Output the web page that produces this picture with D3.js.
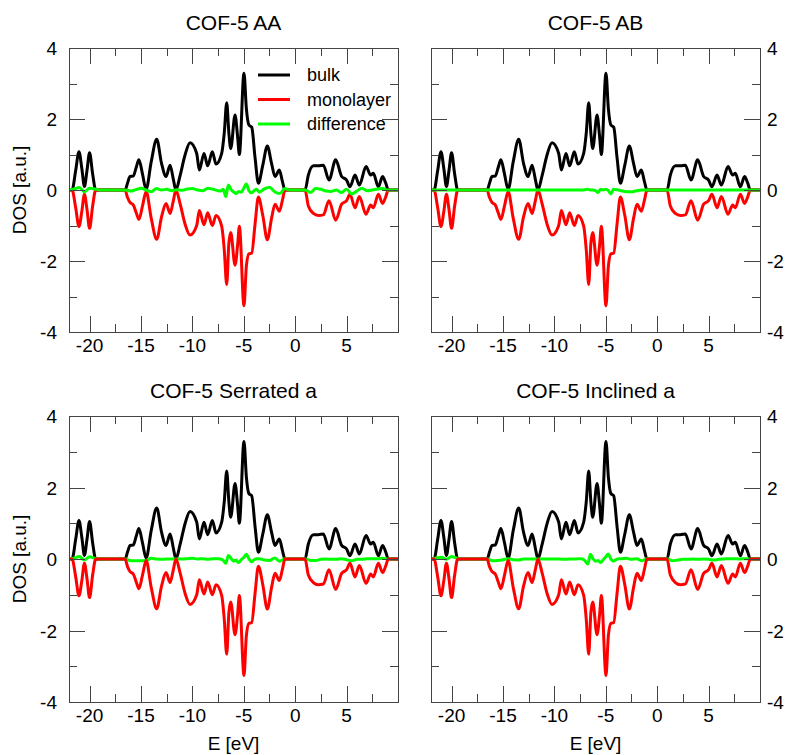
<!DOCTYPE html>
<html>
<head>
<meta charset="utf-8">
<script src="https://d3js.org/d3.v7.min.js"></script>
<style>
  body { margin: 0; background: #fff; }
  svg text { font-family: "Liberation Sans", Arial, sans-serif; fill: #000; }
  .frame { fill: none; stroke: #444; stroke-width: 1; shape-rendering: crispEdges; }
  .tick { stroke: #444; stroke-width: 1; shape-rendering: crispEdges; }
  .dos { fill: none; stroke-width: 3; stroke-linejoin: round; stroke-linecap: round; }
</style>
</head>
<body>
<svg width="790" height="755"></svg>
<script>
// energy grid (eV) for the bulk / monolayer curves
const energy = [-22, -21.7, -21.35, -21.03, -20.75, -20.5, -20.25, -20.0, -19.7, -19.4,
  -16.55, -16.3, -16.07, -15.75, -15.45, -15.2, -14.85, -14.5, -14.0, -13.47,
  -13.0, -12.56, -12.17, -11.85, -11.6, -11.2, -10.7, -10.23, -9.58, -9.32,
  -8.87, -8.51, -8.06, -7.7, -7.15, -6.9, -6.66, -6.45, -6.27, -5.85,
  -5.6, -5.43, -4.98, -4.75, -4.5, -4.23, -3.9, -3.58, -3.15, -2.71,
  -2.3, -1.96, -1.54, -1.25, -0.99, 0.96, 1.28, 1.77, 2.25, 2.74,
  3.29, 3.94, 4.52, 5.0, 5.33, 5.82, 6.24, 6.89, 7.34, 7.6,
  8.09, 8.5, 8.8, 9.06, 10];

const bulkDos = [0, 0, 0.55, 1.08, 0.6, 0.1, 0.55, 1.05, 0.45, 0,
  0, 0.2, 0.38, 0.39, 0.65, 0.85, 0.45, 0.02, 0.8, 1.43,
  0.75, 0.38, 0.7, 0.3, 0, 0.4, 1.0, 1.33, 1.03, 0.56,
  1.03, 0.68, 1.08, 0.73, 1.03, 1.6, 2.46, 1.6, 1.17, 2.11,
  1.5, 1.0, 3.29, 2.3, 1.83, 1.77, 0.9, 0.19, 0.7, 1.24,
  0.75, 0.38, 0.56, 0.25, 0, 0, 0.42, 0.68, 0.68, 0.7,
  0.28, 0.85, 0.38, 0.28, 0.09, 0.42, 0.14, 0.66, 0.42, 0.47,
  0.09, 0.38, 0.2, 0, 0];

// monolayer DOS is drawn mirrored (negative)
const monoDos = [0, 0, -0.5, -1.03, -0.6, -0.12, -0.55, -1.08, -0.45, 0,
  0, -0.22, -0.35, -0.42, -0.65, -0.83, -0.45, -0.04, -0.8, -1.39,
  -0.76, -0.38, -0.66, -0.3, 0, -0.38, -0.97, -1.27, -1.0, -0.58,
  -0.98, -0.64, -1.0, -0.72, -1.02, -1.68, -2.66, -1.5, -1.2, -2.12,
  -1.55, -1.02, -3.26, -2.15, -1.8, -1.78, -0.95, -0.2, -0.72, -1.4,
  -0.8, -0.4, -0.6, -0.3, 0, 0, -0.45, -0.66, -0.72, -0.7,
  -0.3, -0.85, -0.4, -0.3, -0.12, -0.5, -0.18, -0.68, -0.42, -0.5,
  -0.12, -0.38, -0.2, 0, 0];

// energy grid for the difference curves
const diffEnergy = [-22, -21.5, -21, -20.5, -20, -19.5, -19, -18.5, -18, -17.5,
  -17, -16.5, -16, -15.5, -15, -14.5, -14, -13.5, -13, -12.5,
  -12, -11.5, -11, -10.5, -10, -9.5, -9, -8.5, -8, -7.5,
  -7.25, -7, -6.75, -6.5, -6.25, -6, -5.75, -5.5, -5.25, -5,
  -4.75, -4.5, -4.25, -4, -3.75,
  -3.5, -3, -2.5, -2, -1.5, -1, -0.5, 0, 0.5, 1,
  1.5, 2, 2.5, 3, 3.5, 4, 4.5, 5, 5.5, 6,
  6.5, 7, 7.5, 8, 8.5, 9, 9.5, 10];

const diffAA = [0, 0.03, 0.07, -0.05, 0.05, 0.03, 0, 0, 0, 0,
  0, 0, -0.03, 0.01, 0.05, 0, -0.05, 0.04, 0, 0.02,
  -0.02, 0.01, -0.01, 0.03, 0.04, 0, -0.02, 0.05, 0.02, -0.02,
  -0.03, 0.02, -0.19, 0.14, 0.02, -0.05, -0.1, -0.04, -0.06, 0.05,
  0.17, -0.02, -0.08, -0.02, 0.02,
  -0.06, 0.03, 0.08, -0.05, -0.1, 0.04, 0, 0, 0, 0,
  -0.07, 0.04, 0.02, -0.03, -0.04, 0, -0.07, 0.02, -0.11, -0.03,
  0.05, -0.02, 0, 0.03, 0.04, 0, 0, 0];

const diffAB = [0, 0, 0, 0, 0, 0, 0, 0, 0, 0,
  0, 0, 0, 0, 0, 0, 0, 0, 0, 0,
  0, 0, 0, 0, 0, 0, 0, 0, 0, 0,
  0, 0.01, 0.02, 0, 0, -0.02, -0.07, 0.02, 0, 0.02,
  -0.02, -0.11, 0.02, 0.01, 0,
  -0.02, -0.05, -0.05, -0.02, 0, 0, 0, 0, 0, 0,
  0, 0, 0, 0, 0, 0, 0, 0, 0, 0,
  0, 0, 0, 0, 0, 0, 0, 0];

const diffSerrated = [0, 0.02, 0.07, -0.03, 0.06, 0.02, 0, 0, 0, 0,
  0, 0, -0.05, -0.05, -0.05, -0.04, 0.02, 0, -0.01, 0,
  0, 0, 0, 0.01, 0.02, 0, 0.01, -0.01, 0.01, 0.01,
  0, -0.04, -0.12, 0.1, 0.02, -0.06, -0.03, -0.1, -0.02, 0.04,
  0.13, 0.01, -0.08, -0.02, 0.01,
  0.01, -0.03, -0.04, 0.03, -0.06, 0.01, 0, 0, 0, 0,
  -0.04, -0.04, -0.01, 0, -0.01, -0.01, 0.01, -0.02, -0.05, -0.01,
  -0.01, 0.01, 0.01, 0.01, 0.02, 0, 0, 0];

const diffInclined = [0, 0.03, 0.05, -0.01, 0.07, 0.02, 0, 0, 0, 0,
  0, 0, -0.05, -0.04, -0.02, 0.01, -0.02, -0.03, 0, 0,
  0, 0, 0, 0, 0, 0, -0.01, 0, 0, 0.01,
  0, -0.06, -0.14, 0.13, 0.01, -0.06, -0.04, -0.1, -0.02, 0.06,
  0.14, 0, -0.06, -0.02, 0.01,
  0.01, 0.02, -0.01, 0.01, -0.05, 0.01, 0, 0, 0, 0,
  -0.05, -0.03, -0.01, -0.01, 0, -0.01, 0, -0.01, -0.03, -0.01,
  0, 0.01, 0.01, 0, 0.01, 0, 0, 0];

const panelTitles = ["COF-5 AA", "COF-5 AB", "COF-5 Serrated a", "COF-5 Inclined a"];
const panelDiffs = [diffAA, diffAB, diffSerrated, diffInclined];
const legendLabels = ["bulk", "monolayer", "difference"];
const seriesColors = ["#000000", "#ff0000", "#00ff00"];
const xMajor = [-20, -15, -10, -5, 0, 5];
const xMinor = [-17.5, -12.5, -7.5, -2.5, 2.5, 7.5];
const yMajor = [-4, -2, 0, 2, 4];
const yMinor = [-3, -1, 1, 3];

const svg = d3.select("svg");
const panelW = 329;
const lefts = [69, 431], tops = [48, 416], heights = [284, 286];

const bulkPts = energy.map((e, i) => ({e: e, v: bulkDos[i]}));
const monoPts = energy.map((e, i) => ({e: e, v: monoDos[i]}));

panelTitles.forEach(function(title, p) {
  const col = p % 2, row = Math.floor(p / 2);
  const x0 = lefts[col], y0 = tops[row], h = heights[row];
  const x = d3.scaleLinear().domain([-22, 10]).range([x0, x0 + panelW]);
  const y = d3.scaleLinear().domain([-4, 4]).range([y0 + h, y0]);
  const g = svg.append("g");

  g.append("clipPath").attr("id", "clip" + p)
    .append("rect").attr("x", x0).attr("y", y0).attr("width", panelW).attr("height", h);

  const line = d3.line().curve(d3.curveMonotoneX)
    .x(d => x(d.e)).y(d => y(d.v));
  const diffPts = diffEnergy.map((e, i) => ({e: e, v: panelDiffs[p][i]}));

  const plot = g.append("g").attr("clip-path", "url(#clip" + p + ")");
  // draw order: top panels put difference on top, bottom panels put monolayer on top
  const order = row === 0 ? [[bulkPts, 0], [monoPts, 1], [diffPts, 2]]
                          : [[bulkPts, 0], [diffPts, 2], [monoPts, 1]];
  order.forEach(function(s) {
    plot.append("path").attr("class", "dos")
      .attr("d", line(s[0])).attr("stroke", seriesColors[s[1]]);
  });

  // ticks on all four sides, pointing inward
  const tk = g.append("g");
  xMajor.forEach(function(t) {
    const xx = Math.round(x(t)) + 0.5;
    tk.append("line").attr("class", "tick").attr("x1", xx).attr("x2", xx).attr("y1", y0).attr("y2", y0 + 16);
    tk.append("line").attr("class", "tick").attr("x1", xx).attr("x2", xx).attr("y1", y0 + h).attr("y2", y0 + h - 16);
  });
  xMinor.forEach(function(t) {
    const xx = Math.round(x(t)) + 0.5;
    tk.append("line").attr("class", "tick").attr("x1", xx).attr("x2", xx).attr("y1", y0).attr("y2", y0 + 8);
    tk.append("line").attr("class", "tick").attr("x1", xx).attr("x2", xx).attr("y1", y0 + h).attr("y2", y0 + h - 8);
  });
  yMajor.forEach(function(t) {
    const yy = Math.round(y(t)) + 0.5;
    tk.append("line").attr("class", "tick").attr("x1", x0).attr("x2", x0 + 16).attr("y1", yy).attr("y2", yy);
    tk.append("line").attr("class", "tick").attr("x1", x0 + panelW).attr("x2", x0 + panelW - 16).attr("y1", yy).attr("y2", yy);
  });
  yMinor.forEach(function(t) {
    const yy = Math.round(y(t)) + 0.5;
    tk.append("line").attr("class", "tick").attr("x1", x0).attr("x2", x0 + 8).attr("y1", yy).attr("y2", yy);
    tk.append("line").attr("class", "tick").attr("x1", x0 + panelW).attr("x2", x0 + panelW - 8).attr("y1", yy).attr("y2", yy);
  });

  g.append("rect").attr("class", "frame")
    .attr("x", x0 + 0.5).attr("y", y0 + 0.5).attr("width", panelW).attr("height", h);

  // tick labels
  xMajor.forEach(function(t) {
    g.append("text").attr("x", x(t)).attr("y", y0 + h + 20)
      .attr("text-anchor", "middle").attr("font-size", 19).text(String(t));
  });
  yMajor.forEach(function(t) {
    g.append("text")
      .attr("x", col === 0 ? x0 - 12 : x0 + panelW + 7)
      .attr("y", y(t) + 7)
      .attr("text-anchor", col === 0 ? "end" : "start")
      .attr("font-size", 19).text(String(t));
  });

  g.append("text").attr("x", x0 + panelW / 2).attr("y", y0 - 18)
    .attr("text-anchor", "middle").attr("font-size", 21).text(title);

  if (col === 0) {
    g.append("text")
      .attr("transform", "translate(26," + (y0 + h / 2) + ") rotate(-90)")
      .attr("text-anchor", "middle").attr("font-size", 19).text("DOS [a.u.]");
  }
  if (row === 1) {
    g.append("text").attr("x", x0 + panelW / 2).attr("y", y0 + h + 48)
      .attr("text-anchor", "middle").attr("font-size", 19).text("E [eV]");
  }

  // legend only in the first panel
  if (p === 0) {
    const lg = g.append("g");
    legendLabels.forEach(function(lab, i) {
      const ly = 75 + i * 24.5;
      lg.append("line").attr("x1", 258).attr("x2", 290).attr("y1", ly).attr("y2", ly)
        .attr("stroke", seriesColors[i]).attr("stroke-width", 3);
      lg.append("text").attr("x", 307).attr("y", ly + 6)
        .attr("font-size", 18).text(lab);
    });
  }
});
</script>
</body>
</html>
